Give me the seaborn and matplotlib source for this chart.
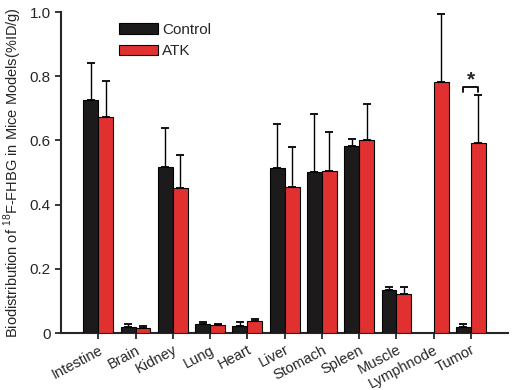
import numpy as np
import pandas as pd
import seaborn as sns
import matplotlib.pyplot as plt

organs = ['Intestine', 'Brain', 'Kidney', 'Lung', 'Heart', 'Liver',
          'Stomach', 'Spleen', 'Muscle', 'Lymphnode', 'Tumor']
control = [0.726, 0.020, 0.517, 0.027, 0.022, 0.514, 0.502, 0.583, 0.134, 0.0, 0.018]
control_err = [0.114, 0.008, 0.121, 0.008, 0.014, 0.137, 0.180, 0.021, 0.009, np.nan, 0.010]
atk = [0.673, 0.015, 0.452, 0.025, 0.038, 0.455, 0.505, 0.601, 0.122, 0.782, 0.592]
atk_err = [0.112, 0.006, 0.103, 0.003, 0.006, 0.124, 0.121, 0.112, 0.021, 0.212, 0.149]
groups = ['Control', 'ATK']
colors = ['#1c1a1a', '#e03030']

df = pd.DataFrame({
    'organ': organs * 2,
    'value': control + atk,
    'group': ['Control'] * len(organs) + ['ATK'] * len(organs),
})

sns.set_style('ticks')
plt.rcParams['font.family'] = ['Liberation Sans', 'DejaVu Sans']
plt.rcParams['mathtext.fontset'] = 'custom'
plt.rcParams['mathtext.rm'] = 'Liberation Sans'

fig = plt.figure(figsize=(5.17, 3.90), dpi=100)
ax = fig.add_axes([0.118, 0.146, 0.865, 0.823])

sns.barplot(data=df, x='organ', y='value', hue='group', hue_order=groups,
            palette=colors, saturation=1, width=0.8, edgecolor='black',
            linewidth=0.8, errorbar=None, ax=ax, zorder=3)

# upper-only error bars
for cont, errs in zip(ax.containers, [control_err, atk_err]):
    for bar, e in zip(cont, errs):
        if np.isnan(e):
            continue
        xc = bar.get_x() + bar.get_width() / 2
        h = bar.get_height()
        ax.errorbar(xc, h, yerr=[[0], [e]], fmt='none', ecolor='black',
                    elinewidth=1, capsize=3, capthick=1.3, zorder=2)

# significance bracket on Tumor
ti = organs.index('Tumor')
ax.plot([ti - 0.2, ti - 0.2, ti + 0.2, ti + 0.2], [0.752, 0.766, 0.766, 0.752],
        color='black', lw=1.3)
ax.text(ti, 0.760, '*', ha='center', va='bottom', fontsize=15, fontweight='bold')

ax.set_xlim(-1, 11)
ax.set_ylim(0, 1.0)
ax.set_yticks([0, 0.2, 0.4, 0.6, 0.8, 1.0])
ax.set_yticklabels(['0', '0.2', '0.4', '0.6', '0.8', '1.0'], fontsize=11)
ax.set_xticks(range(len(organs)))
ax.set_xticklabels(organs, rotation=28, ha='right', rotation_mode='anchor', fontsize=10.5)
ax.tick_params(axis='both', direction='out', length=4, width=1.3)
ax.tick_params(axis='x', pad=3)
ax.set_xlabel('')
ax.set_ylabel(r'Biodistribution of $^{18}$F-FHBG in Mice Models(%ID/g)', fontsize=10.5)
for s in ['left', 'bottom']:
    ax.spines[s].set_linewidth(1.5)
sns.despine(ax=ax)

ax.legend(loc='upper left', bbox_to_anchor=(0.1, 1.01), frameon=False,
          fontsize=11, handlelength=2.5, handleheight=0.7, handletextpad=0.3,
          labelspacing=0.5)

fig.savefig('out.png', dpi=100)
